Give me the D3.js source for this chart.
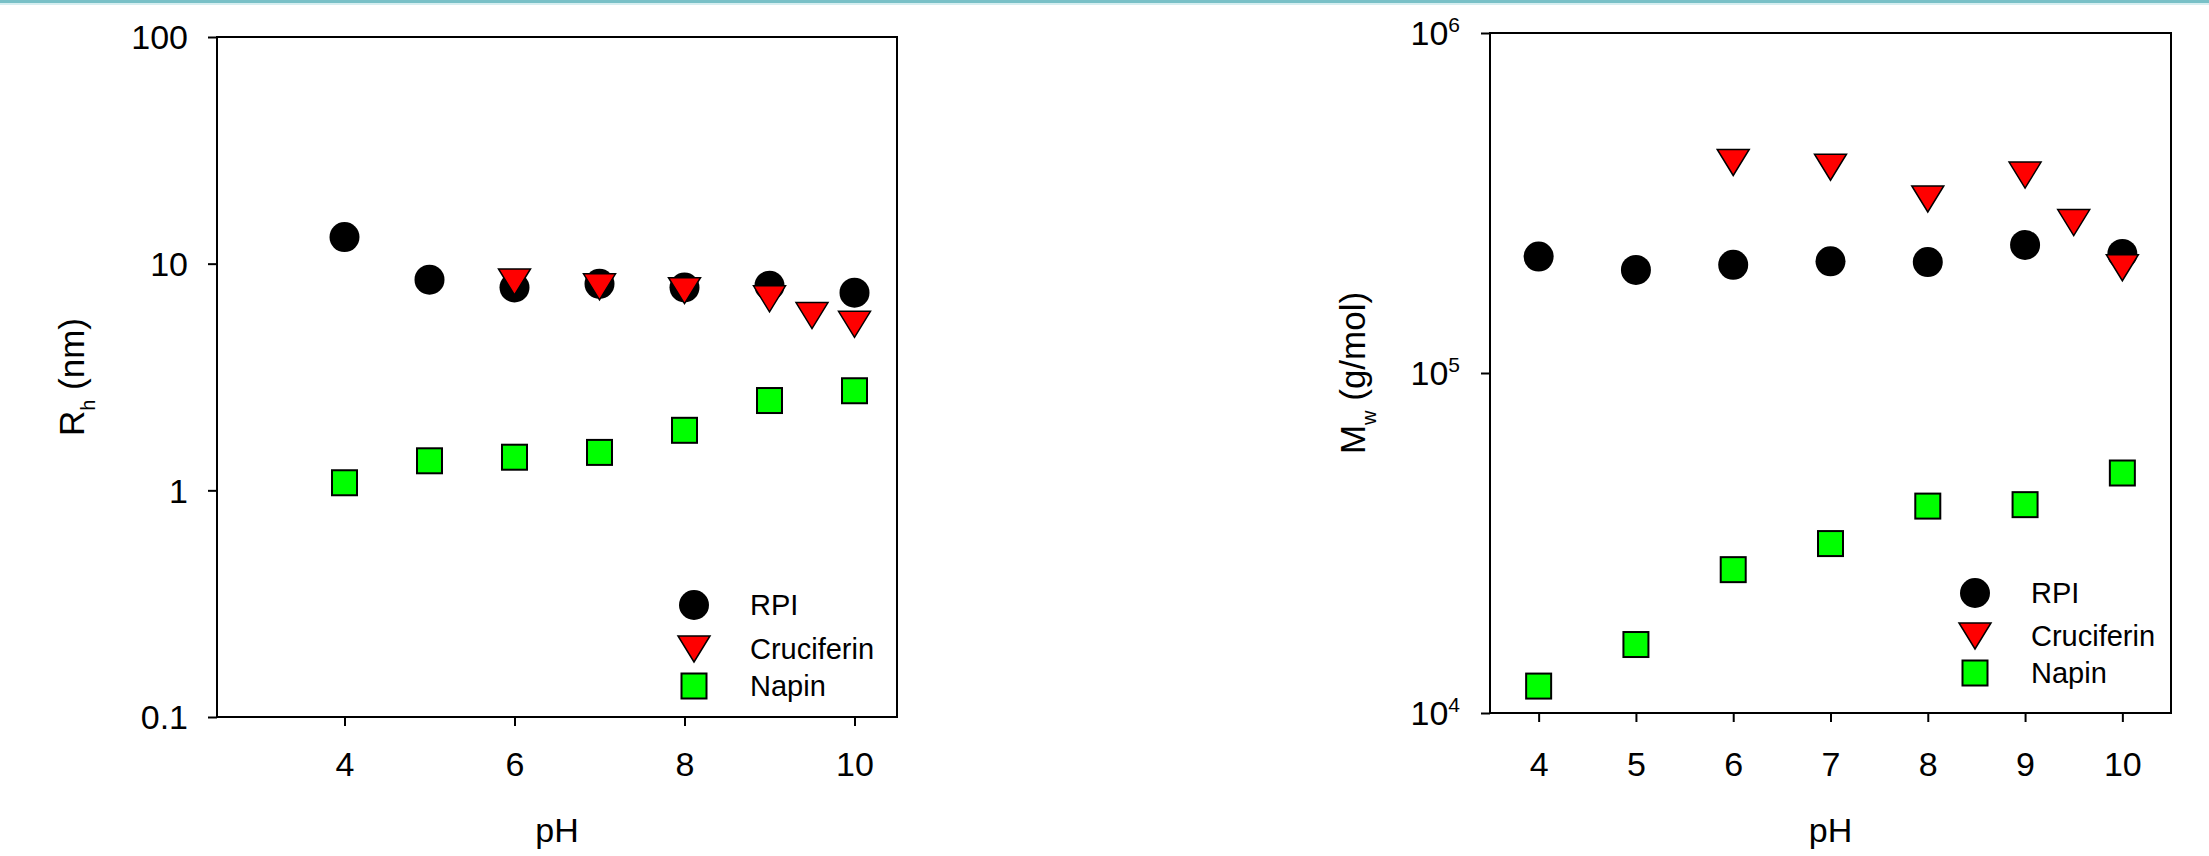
<!DOCTYPE html>
<html>
<head>
<meta charset="utf-8">
<script src="https://cdn.jsdelivr.net/npm/d3@7"></script>
<style>
  body { margin: 0; background: #fff; }
  svg { display: block; font-family: "Liberation Sans", Arial, sans-serif; }
</style>
</head>
<body>
<svg id="chart" width="2209" height="856"></svg>
<script>
// --- data ---
const seriesNames = ["RPI", "Cruciferin", "Napin"];

// left panel: hydrodynamic radius (nm)
const phRh = [4, 5, 6, 7, 8, 9, 10];
const rpiRh = [13.1, 8.5, 7.85, 8.15, 7.85, 8.0, 7.45];
const phCruRh = [6, 7, 8, 9, 9.5, 10];
const cruRh = [8.3, 7.9, 7.6, 7.0, 5.9, 5.4];
const napinRh = [1.08, 1.35, 1.40, 1.47, 1.84, 2.49, 2.75];

// right panel: molecular weight (g/mol)
const phMw = [4, 5, 6, 7, 8, 9, 10];
const rpiMw = [2.20e5, 2.01e5, 2.08e5, 2.13e5, 2.12e5, 2.38e5, 2.24e5];
const phCruMw = [6, 7, 8, 9, 9.5, 10];
const cruMw = [4.16e5, 4.03e5, 3.25e5, 3.82e5, 2.77e5, 2.04e5];
const napinMw = [1.20e4, 1.59e4, 2.64e4, 3.15e4, 4.06e4, 4.10e4, 5.08e4];

// ticks
const rhTicksX = [4, 6, 8, 10];
const rhTicksY = [0.1, 1, 10, 100];
const rhTickLabels = ["0.1", "1", "10", "100"];
const mwTicksX = [4, 5, 6, 7, 8, 9, 10];
const mwTicksY = [1e4, 1e5, 1e6];
const mwExponents = ["4", "5", "6"];

const svg = d3.select("#chart");

// thin teal strip along the top edge
svg.append("rect").attr("x", 0).attr("y", 0).attr("width", 2209).attr("height", 3).attr("fill", "#79c0c7");
svg.append("rect").attr("x", 0).attr("y", 3).attr("width", 2209).attr("height", 2).attr("fill", "#d6eef0");

const trianglePath = "M-16,-13L16,-13L0,13Z";

function drawSymbol(g, kind, cx, cy) {
  if (kind === "RPI") {
    g.append("circle").attr("cx", cx).attr("cy", cy).attr("r", 15).attr("fill", "#000");
  } else if (kind === "Cruciferin") {
    g.append("path").attr("d", trianglePath)
      .attr("transform", `translate(${cx},${cy})`)
      .attr("fill", "#ff0000").attr("stroke", "#000").attr("stroke-width", 1.5)
      .attr("stroke-linejoin", "miter");
  } else {
    g.append("rect").attr("x", cx - 12.5).attr("y", cy - 12.5)
      .attr("width", 25).attr("height", 25)
      .attr("fill", "#00ff00").attr("stroke", "#000").attr("stroke-width", 2);
  }
}

function drawPanel(cfg) {
  const g = svg.append("g");
  const x = d3.scaleLinear().domain(cfg.xDomain).range([cfg.left, cfg.right]);
  const y = d3.scaleLog().domain(cfg.yDomain).range([cfg.bottom, cfg.top]);

  // y axis
  const yAxis = g.append("g")
    .attr("transform", `translate(${cfg.left},0)`)
    .call(d3.axisLeft(y).tickValues(cfg.yTicks).tickSize(9).tickPadding(cfg.yPad).tickFormat(() => ""));
  yAxis.select(".domain").remove();
  yAxis.selectAll(".tick line").attr("stroke", "#000").attr("stroke-width", 2);
  yAxis.selectAll(".tick text")
    .attr("fill", "#000").style("font-size", "34px").attr("dy", "0.35em")
    .each(function (d, i) {
      const t = d3.select(this);
      if (cfg.yExp) {
        t.append("tspan").text("10");
        t.append("tspan").text(cfg.yExp[i]).style("font-size", "21px").attr("dy", "-13");
      } else {
        t.text(cfg.yLabels[i]);
      }
    });

  // x axis
  const xAxis = g.append("g")
    .attr("transform", `translate(0,${cfg.bottom})`)
    .call(d3.axisBottom(x).tickValues(cfg.xTicks).tickSize(9).tickFormat(d3.format("d")));
  xAxis.select(".domain").remove();
  xAxis.selectAll(".tick line").attr("stroke", "#000").attr("stroke-width", 2);
  xAxis.selectAll(".tick text")
    .attr("fill", "#000").style("font-size", "34px")
    .attr("y", 776 - cfg.bottom).attr("dy", 0);

  // frame
  g.append("rect")
    .attr("x", cfg.left).attr("y", cfg.top)
    .attr("width", cfg.right - cfg.left).attr("height", cfg.bottom - cfg.top)
    .attr("fill", "none").attr("stroke", "#000").attr("stroke-width", 2);

  // points: RPI first, then Cruciferin, Napin on top
  const marks = g.append("g");
  cfg.rpiX.forEach((p, i) => drawSymbol(marks, "RPI", x(p), y(cfg.rpi[i])));
  cfg.cruX.forEach((p, i) => drawSymbol(marks, "Cruciferin", x(p), y(cfg.cru[i])));
  cfg.napX.forEach((p, i) => drawSymbol(marks, "Napin", x(p), y(cfg.nap[i])));

  // legend
  const leg = g.append("g");
  seriesNames.forEach((name, i) => {
    const cy = cfg.legY[i];
    drawSymbol(leg, name, cfg.legX, cy);
    leg.append("text")
      .attr("x", cfg.legX + 56).attr("y", cy + 10)
      .style("font-size", "29px").attr("fill", "#000")
      .text(name);
  });

  // axis titles
  g.append("text")
    .attr("x", (cfg.left + cfg.right) / 2).attr("y", 842)
    .attr("text-anchor", "middle").style("font-size", "34px").attr("fill", "#000")
    .text("pH");

  const yt = g.append("text")
    .attr("transform", `translate(${cfg.titleX},${(cfg.top + cfg.bottom) / 2}) rotate(-90)`)
    .attr("text-anchor", "middle").style("font-size", "35px").attr("fill", "#000");
  yt.append("tspan").text(cfg.titleMain);
  yt.append("tspan").text(cfg.titleSub).style("font-size", "20px").attr("dy", 11);
  yt.append("tspan").text(cfg.titleRest).attr("dy", -11);
}

drawPanel({
  left: 217, right: 897, top: 37, bottom: 717,
  xDomain: [2.5, 10.5], yDomain: [0.1, 100],
  xTicks: rhTicksX, yTicks: rhTicksY, yLabels: rhTickLabels, yPad: 20,
  rpiX: phRh, rpi: rpiRh, cruX: phCruRh, cru: cruRh, napX: phRh, nap: napinRh,
  legX: 694, legY: [605, 649, 686],
  titleX: 84, titleMain: "R", titleSub: "h", titleRest: " (nm)"
});

drawPanel({
  left: 1490, right: 2171, top: 33, bottom: 713,
  xDomain: [3.5, 10.5], yDomain: [1e4, 1e6],
  xTicks: mwTicksX, yTicks: mwTicksY, yExp: mwExponents, yPad: 21,
  rpiX: phMw, rpi: rpiMw, cruX: phCruMw, cru: cruMw, napX: phMw, nap: napinMw,
  legX: 1975, legY: [593, 636, 673],
  titleX: 1365, titleMain: "M", titleSub: "w", titleRest: " (g/mol)"
});
</script>
</body>
</html>
